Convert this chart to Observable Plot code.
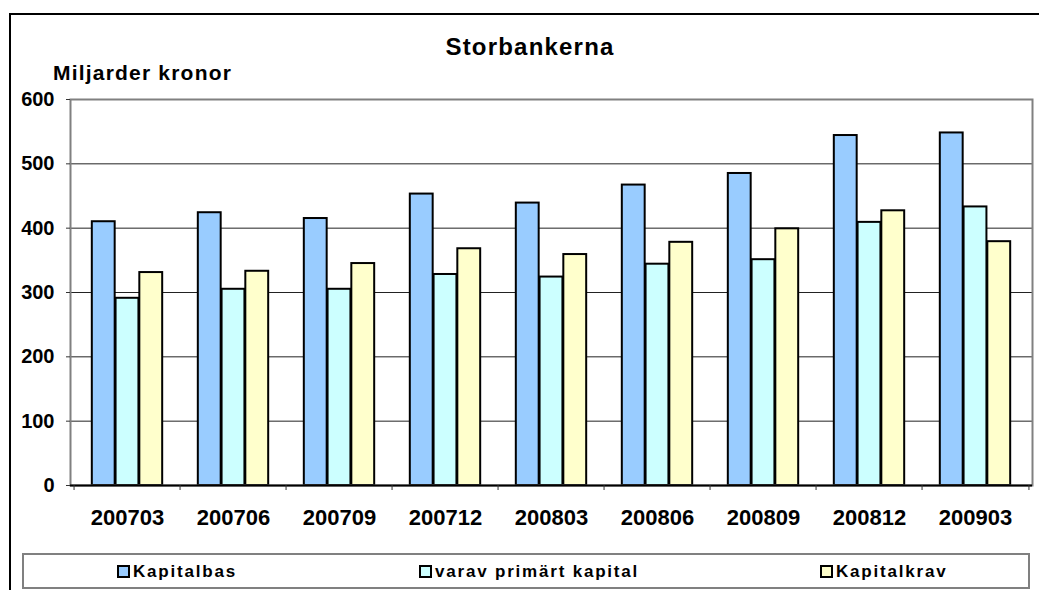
<!DOCTYPE html>
<html>
<head>
<meta charset="utf-8">
<script src="https://cdn.jsdelivr.net/npm/d3@7"></script>
<script src="https://cdn.jsdelivr.net/npm/@observablehq/plot@0.6"></script>
<style>
  html, body { margin: 0; padding: 0; background: #fff; }
  body { font-family: "Liberation Sans", Arial, sans-serif; }
  #page { position: relative; width: 1039px; height: 590px; overflow: hidden; background: #fff; }
  #outer { position: absolute; left: 9px; top: 13px; width: 1100px; height: 700px; border: 2px solid #000; box-sizing: border-box; }
  #header { position: relative; height: 90px; }
  #title { position: absolute; left: 0; width: 1060px; top: 34.5px; text-align: center; font-size: 24px; line-height: 24px; font-weight: bold; letter-spacing: 1.2px; color: #000; }
  #ylabel { position: absolute; left: 53px; top: 62px; font-size: 21px; line-height: 21px; font-weight: bold; letter-spacing: 1.2px; color: #000; }
  #chart { position: relative; height: 455px; }
  #chart svg { background: transparent; }
  #legend { position: absolute; left: 22px; top: 553px; width: 1008px; height: 36px; border: 2px solid #808080; box-sizing: border-box; background: #fff; }
  .item { position: absolute; top: 8px; font-size: 17px; line-height: 17px; font-weight: bold; letter-spacing: 1.8px; white-space: nowrap; color: #000; }
  .sw { display: inline-block; width: 13px; height: 13px; border: 2px solid #000; box-sizing: border-box; margin-right: 3px; vertical-align: -1px; }
</style>
</head>
<body>
<div id="page">
  <div id="outer"></div>
  <div id="header">
    <div id="title">Storbankerna</div>
    <div id="ylabel">Miljarder kronor</div>
  </div>
  <div id="chart"></div>
  <div id="legend"></div>
</div>
<script>
const periods = ["200703","200706","200709","200712","200803","200806","200809","200812","200903"];
const kapitalbas = [410, 424, 415, 453, 439, 467, 485, 544, 548];
const primartKapital = [291, 305, 305, 328, 324, 344, 351, 409, 433];
const kapitalkrav = [331, 333, 345, 368, 359, 378, 399, 427, 379];
const seriesNames = ["Kapitalbas", "varav primärt kapital", "Kapitalkrav"];
const seriesColors = ["#99CCFF", "#CCFFFF", "#FFFFCC"];
const yTicks = [0, 100, 200, 300, 400, 500, 600];
const gridValues = [100, 200, 300, 400, 500];

const seriesValues = [kapitalbas, primartKapital, kapitalkrav];

const width = 1039, height = 455;
const marginLeft = 70, marginRight = 7, marginTop = 9, marginBottom = 60;
const bw = (width - marginLeft - marginRight) / periods.length;
const barW = bw / 4.5;          // Excel gap width 150%
const gapHalf = 0.75 * barW;

const barMarks = seriesValues.map((vals, s) =>
  Plot.barY(periods.map((p, i) => ({period: p, value: vals[i]})), {
    x: "period",
    y: "value",
    fill: seriesColors[s],
    stroke: "#000",
    strokeWidth: 2,
    insetLeft: gapHalf + s * barW,
    insetRight: bw - gapHalf - (s + 1) * barW
  })
);

const plot = Plot.plot({
  width, height, marginLeft, marginRight, marginTop, marginBottom,
  style: {fontFamily: "'Liberation Sans', Arial, sans-serif", background: "transparent", overflow: "visible"},
  x: {type: "band", domain: periods, padding: 0},
  y: {domain: [0, 600]},
  marks: [
    Plot.ruleY(gridValues, {stroke: "#222", strokeWidth: 1}),
    ...barMarks,
    Plot.frame({stroke: "#808080", strokeWidth: 2}),
    Plot.ruleY([0], {stroke: "#000", strokeWidth: 2}),
    Plot.axisY({ticks: yTicks, tickSize: 4, tickPadding: 12, fontSize: 20, fontWeight: "bold", label: null, tickFormat: d => String(d), stroke: "#333"}),
    Plot.axisX({tickSize: 0, tickPadding: 24, fontSize: 22, fontWeight: "bold", label: null}),
    Plot.axisX({tickSize: 5, dx: -bw / 2, tickFormat: () => "", label: null, stroke: "#333"}),
    Plot.axisX([periods[periods.length - 1]], {tickSize: 5, dx: bw / 2, tickFormat: () => "", label: null, stroke: "#333"})
  ]
});
document.getElementById("chart").appendChild(plot);

// Legend (HTML, below the SVG)
const legendLeft = [93, 395, 796];
const legend = document.getElementById("legend");
seriesNames.forEach((name, s) => {
  const it = document.createElement("div");
  it.className = "item";
  it.style.left = legendLeft[s] + "px";
  const sw = document.createElement("span");
  sw.className = "sw";
  sw.style.background = seriesColors[s];
  it.appendChild(sw);
  it.appendChild(document.createTextNode(name));
  legend.appendChild(it);
});
</script>
</body>
</html>
